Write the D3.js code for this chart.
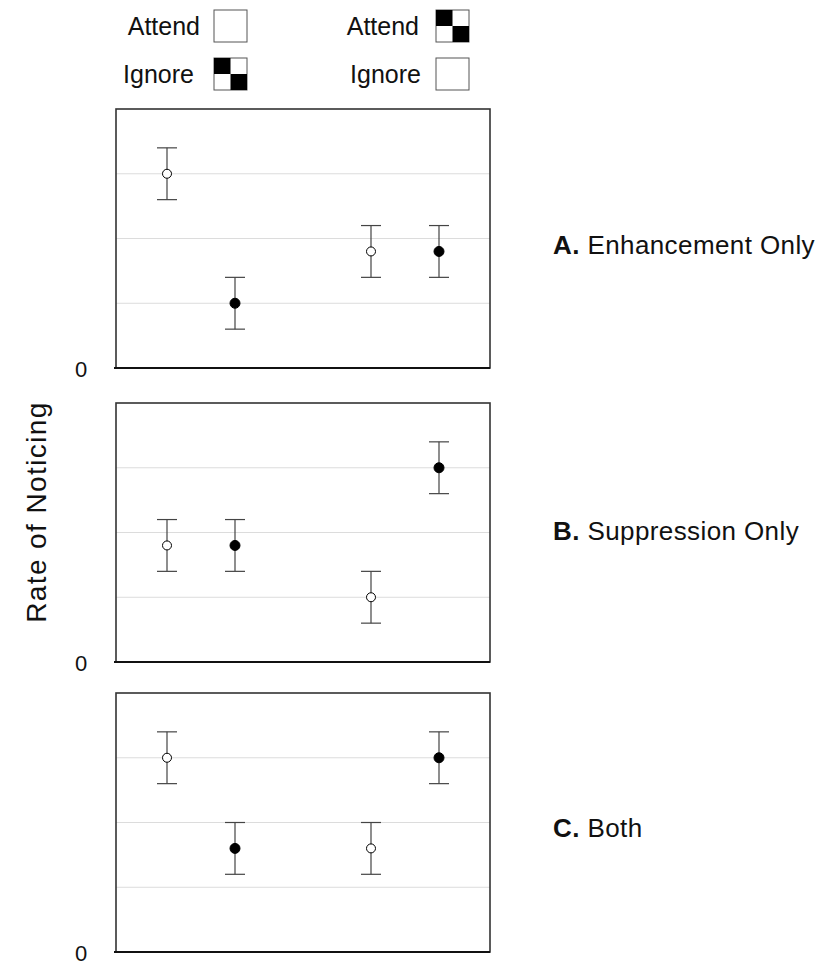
<!DOCTYPE html>
<html>
<head>
<meta charset="utf-8">
<script src="https://cdn.jsdelivr.net/npm/d3@7"></script>
<style>
  html, body { margin: 0; padding: 0; background: #fff; }
  svg text { font-family: "Liberation Sans", "DejaVu Sans", sans-serif; fill: #111; }
</style>
</head>
<body>
<svg id="chart" width="822" height="965"></svg>
<script>
// ---- data ----
const conditions = ["c1", "c2", "c3", "c4"];
const conditionX = [0.75, 1.75, 3.75, 4.75];
const conditionFilled = [false, true, false, true];
const panelIds = ["A.", "B.", "C."];
const panelNames = ["Enhancement Only", "Suppression Only", "Both"];
const valuesA = [3.0, 1.0, 1.8, 1.8];
const valuesB = [1.8, 1.8, 1.0, 3.0];
const valuesC = [3.0, 1.6, 1.6, 3.0];
const errorHalf = [0.4, 0.4, 0.4, 0.4];
const gridTicks = [1, 2, 3];
const zeroLabel = "0";
const yTitle = "Rate of Noticing";
const legendLeft = ["Attend", "Ignore"];
const legendLeftPattern = ["plain", "checker"];
const legendRight = ["Attend", "Ignore"];
const legendRightPattern = ["checker", "plain"];

const panelValues = [valuesA, valuesB, valuesC];

// ---- layout ----
const svg = d3.select("#chart");
const left = 116, right = 490;
const panelTops = [109, 403, 693];
const panelH = 259;
const labelOffsets = [15, 7, 14];

const x = d3.scaleLinear().domain([0, 5.5]).range([left, right]);

panelValues.forEach((vals, pi) => {
  const top = panelTops[pi], bottom = top + panelH;
  const y = d3.scaleLinear().domain([0, 4]).range([bottom, top]);
  const g = svg.append("g");

  // gridlines
  g.selectAll("line.grid").data(gridTicks).join("line")
    .attr("x1", left).attr("x2", right)
    .attr("y1", d => y(d)).attr("y2", d => y(d))
    .attr("stroke", "#dcdcdc").attr("stroke-width", 1);

  // frame
  g.append("rect").attr("x", left).attr("y", top)
    .attr("width", right - left).attr("height", panelH)
    .attr("fill", "none").attr("stroke", "#333").attr("stroke-width", 1.6);
  g.append("line").attr("x1", left - 2).attr("x2", right)
    .attr("y1", bottom).attr("y2", bottom)
    .attr("stroke", "#111").attr("stroke-width", 2.2);

  const pts = conditions.map((c, i) => ({ x: conditionX[i], v: vals[i], e: errorHalf[i], f: conditionFilled[i] }));

  // error bars
  const eb = g.selectAll("g.eb").data(pts).join("g");
  eb.append("line")
    .attr("x1", d => x(d.x)).attr("x2", d => x(d.x))
    .attr("y1", d => y(d.v - d.e)).attr("y2", d => y(d.v + d.e))
    .attr("stroke", "#444").attr("stroke-width", 1.2);
  [-1, 1].forEach(s => {
    eb.append("line")
      .attr("x1", d => x(d.x) - 10).attr("x2", d => x(d.x) + 10)
      .attr("y1", d => y(d.v + s * d.e)).attr("y2", d => y(d.v + s * d.e))
      .attr("stroke", "#444").attr("stroke-width", 1.2);
  });
  eb.append("circle")
    .attr("cx", d => x(d.x)).attr("cy", d => y(d.v))
    .attr("r", d => d.f ? 5 : 4.5)
    .attr("fill", d => d.f ? "#000" : "#fff")
    .attr("stroke", "#000").attr("stroke-width", 1);

  // zero label
  g.append("text").attr("x", 81).attr("y", bottom + 9)
    .attr("text-anchor", "middle").attr("font-size", 22).text(zeroLabel);

  // panel label
  const t = g.append("text").attr("x", 553).attr("y", y(2) + labelOffsets[pi])
    .attr("font-size", 26).attr("letter-spacing", 0.4);
  t.append("tspan").attr("font-weight", "bold").text(panelIds[pi]);
  t.append("tspan").text(" " + panelNames[pi]);
});

// y title
svg.append("text")
  .attr("transform", "translate(46,512) rotate(-90)")
  .attr("text-anchor", "middle").attr("font-size", 28).attr("letter-spacing", 1.4)
  .text(yTitle);

// legend
function drawBox(bx, by, pattern) {
  const w = 33, h = 32;
  const g = svg.append("g");
  g.append("rect").attr("x", bx).attr("y", by).attr("width", w).attr("height", h)
    .attr("fill", "#fff").attr("stroke", "#555").attr("stroke-width", 1);
  if (pattern === "checker") {
    g.append("rect").attr("x", bx).attr("y", by).attr("width", w / 2).attr("height", h / 2).attr("fill", "#000");
    g.append("rect").attr("x", bx + w / 2).attr("y", by + h / 2).attr("width", w / 2).attr("height", h / 2).attr("fill", "#000");
  }
}
const legendRows = [10, 58];
const legendLeftTextX = [200, 194];
const legendRightTextX = [419, 421];
legendLeft.forEach((lab, i) => {
  svg.append("text").attr("x", legendLeftTextX[i]).attr("y", legendRows[i] + 25)
    .attr("text-anchor", "end").attr("font-size", 25).text(lab);
  drawBox(214, legendRows[i], legendLeftPattern[i]);
});
legendRight.forEach((lab, i) => {
  svg.append("text").attr("x", legendRightTextX[i]).attr("y", legendRows[i] + 25)
    .attr("text-anchor", "end").attr("font-size", 25).text(lab);
  drawBox(436, legendRows[i], legendRightPattern[i]);
});
</script>
</body>
</html>
